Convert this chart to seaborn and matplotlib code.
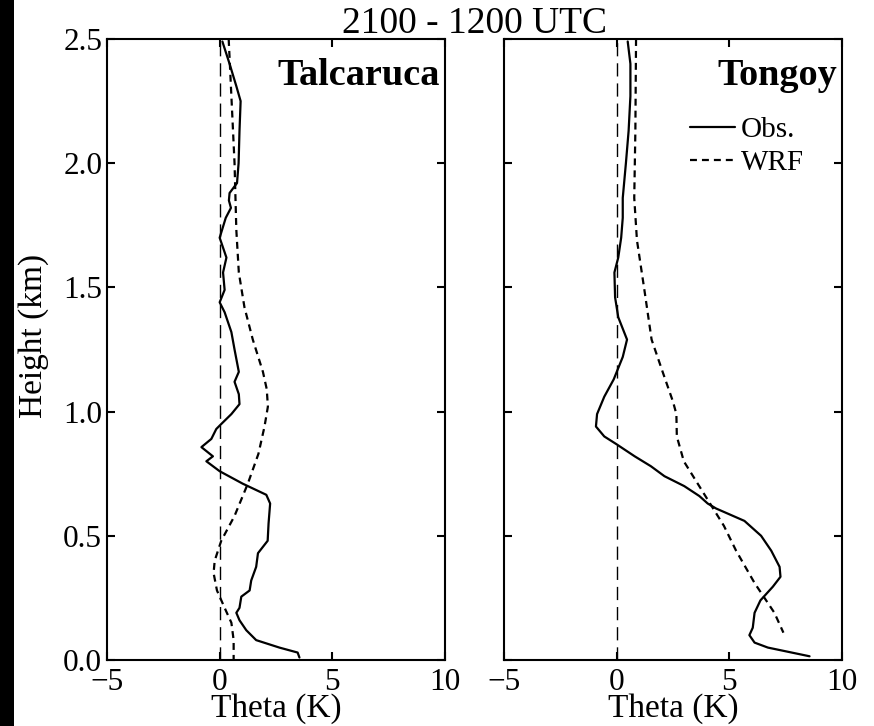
import numpy as np
import pandas as pd
import matplotlib
matplotlib.use("Agg")
import matplotlib.pyplot as plt
from matplotlib.patches import Rectangle
import seaborn as sns

# ---------------- data ----------------
tal_obs_h = [2.49, 2.40, 2.31, 2.25, 2.13, 2.00, 1.92, 1.88, 1.85, 1.82, 1.78, 1.70,
             1.62, 1.56, 1.49, 1.44, 1.40, 1.32, 1.25, 1.16, 1.12, 1.07, 1.03, 0.99,
             0.95, 0.93, 0.89, 0.857, 0.82, 0.80, 0.76, 0.71, 0.665, 0.63, 0.55, 0.48,
             0.43, 0.375, 0.32, 0.28, 0.255, 0.21, 0.19, 0.16, 0.12, 0.08, 0.05, 0.03, 0.01]
tal_obs_t = [0.12, 0.44, 0.74, 0.93, 0.88, 0.84, 0.77, 0.44, 0.41, 0.50, 0.27, 0.00,
             0.30, 0.15, 0.22, 0.00, 0.22, 0.52, 0.66, 0.85, 0.66, 0.85, 0.88, 0.52,
             0.07, -0.15, -0.37, -0.81, -0.30, -0.59, 0.00, 1.02, 2.07, 2.24, 2.17, 2.13,
             1.70, 1.62, 1.40, 1.33, 0.96, 0.88, 0.74, 0.88, 1.18, 1.62, 2.65, 3.46, 3.54]

tal_wrf_h = [2.50, 2.27, 2.00, 1.73, 1.56, 1.42, 1.29, 1.16, 1.09, 1.02, 0.94, 0.83,
             0.71, 0.58, 0.48, 0.40, 0.35, 0.28, 0.21, 0.15, 0.08, 0.00]
tal_wrf_t = [0.40, 0.52, 0.66, 0.74, 0.85, 1.10, 1.47, 1.92, 2.09, 2.14, 1.99, 1.72,
             1.25, 0.66, 0.07, -0.22, -0.27, -0.12, 0.22, 0.52, 0.62, 0.62]

ton_obs_h = [2.49, 2.40, 2.27, 2.13, 2.00, 1.86, 1.78, 1.70, 1.62, 1.56, 1.46, 1.38,
             1.29, 1.22, 1.13, 1.06, 0.99, 0.94, 0.90, 0.87, 0.82, 0.78, 0.74, 0.70,
             0.66, 0.63, 0.61, 0.56, 0.50, 0.44, 0.375, 0.335, 0.295, 0.24, 0.19, 0.13,
             0.10, 0.07, 0.05, 0.015]
ton_obs_t = [0.49, 0.61, 0.61, 0.53, 0.41, 0.27, 0.27, 0.20, 0.07, -0.10, -0.07, 0.07,
             0.46, 0.27, -0.13, -0.55, -0.87, -0.92, -0.55, -0.03, 0.80, 1.52, 2.12, 3.00,
             3.67, 4.04, 4.41, 5.67, 6.41, 6.86, 7.23, 7.27, 6.93, 6.38, 6.12, 6.04,
             5.89, 6.12, 6.71, 8.56]

ton_wrf_h = [2.50, 2.13, 1.86, 1.69, 1.49, 1.29, 1.16, 1.04, 0.99, 0.90, 0.80, 0.67,
             0.54, 0.44, 0.31, 0.19, 0.11]
ton_wrf_t = [0.86, 0.83, 0.78, 0.90, 1.23, 1.55, 2.04, 2.50, 2.65, 2.67, 2.98, 3.87,
             4.76, 5.30, 6.12, 7.00, 7.40]

stations = ["Talcaruca", "Tongoy"]
series_labels = ["Obs.", "WRF"]
x_ticks = [-5, 0, 5, 10]
y_ticks = [0.0, 0.5, 1.0, 1.5, 2.0, 2.5]
title = "2100 - 1200 UTC"
xlabel = "Theta (K)"
ylabel = "Height (km)"

# ---------------- style ----------------
sns.set_style("ticks")
plt.rcParams["font.family"] = ["Liberation Serif", "DejaVu Serif"]
plt.rcParams["lines.scale_dashes"] = False
plt.rcParams["axes.linewidth"] = 1.5
for k in ["text.color", "axes.labelcolor", "xtick.color", "ytick.color",
          "axes.edgecolor", "xtick.labelcolor", "ytick.labelcolor"]:
    plt.rcParams[k] = "black"

W, H = 874, 726
fig = plt.figure(figsize=(W / 100, H / 100), dpi=100)
fig.patch.set_facecolor("white")
fig.patches.append(Rectangle((0, 0), 14 / W, 1, transform=fig.transFigure,
                             facecolor="black", edgecolor="none", zorder=0))

ax_pos = [
    [107 / W, (H - 660) / H, (445 - 107) / W, 621 / H],
    [504 / W, (H - 660) / H, (842 - 504) / W, 621 / H],
]
data = [
    (tal_obs_t, tal_obs_h, tal_wrf_t, tal_wrf_h),
    (ton_obs_t, ton_obs_h, ton_wrf_t, ton_wrf_h),
]

wrf_dash = (0, (5.0, 3.6))
zero_dash = (0, (9.5, 5.0))

axes = []
for i, (pos, (ot, oh, wt, wh)) in enumerate(zip(ax_pos, data)):
    ax = fig.add_axes(pos)
    axes.append(ax)
    ax.axvline(0, color="black", lw=1.0, linestyle=zero_dash, zorder=1)
    obs_df = pd.DataFrame({"theta": ot, "height": oh})
    wrf_df = pd.DataFrame({"theta": wt, "height": wh})
    sns.lineplot(data=obs_df, x="theta", y="height", sort=False, estimator=None,
                 orient="y", color="black", lw=1.6, ax=ax, label=series_labels[0])
    sns.lineplot(data=wrf_df, x="theta", y="height", sort=False, estimator=None,
                 orient="y", color="black", lw=1.6, linestyle=wrf_dash, ax=ax,
                 label=series_labels[1])
    ax.set_xlim(-5, 10)
    ax.set_ylim(0, 2.5)
    ax.set_xticks(x_ticks)
    ax.set_xticklabels(["\u22125", "0", "5", "10"])
    ax.set_yticks(y_ticks)
    ax.tick_params(direction="in", length=6, width=1.5, top=True, right=True,
                   labelsize=22.5, pad=3.5)
    ax.tick_params(axis="x", pad=6.0)
    if i == 0:
        ax.set_yticklabels([f"{v:.1f}" for v in y_ticks])
    else:
        ax.set_yticklabels([])
    ax.set_xlabel(xlabel, fontsize=24, va="center")
    ax.xaxis.set_label_coords(0.5, (660 - 709) / 621)
    ax.set_ylabel("")
    for s in ax.spines.values():
        s.set_linewidth(1.5)
    ax.text(0.985, 0.97, stations[i], transform=ax.transAxes, ha="right", va="top",
            fontsize=27.5, fontweight="bold")
    if i == 0:
        ax.get_legend().remove()
    else:
        ax.legend(loc="upper left", bbox_to_anchor=((690 - 504) / 338, (660 - 117) / 621),
                  frameon=False, fontsize=21, handlelength=1.55, handletextpad=0.2,
                  labelspacing=0.22, borderpad=0, borderaxespad=0)

fig.text(34 / W, 1 - 336 / H, ylabel, rotation=90, ha="center", va="center", fontsize=24)
fig.text(474.5 / W, 1 - 33 / H, title, ha="center", va="baseline", fontsize=27)

fig.savefig("out.png", dpi=100)
